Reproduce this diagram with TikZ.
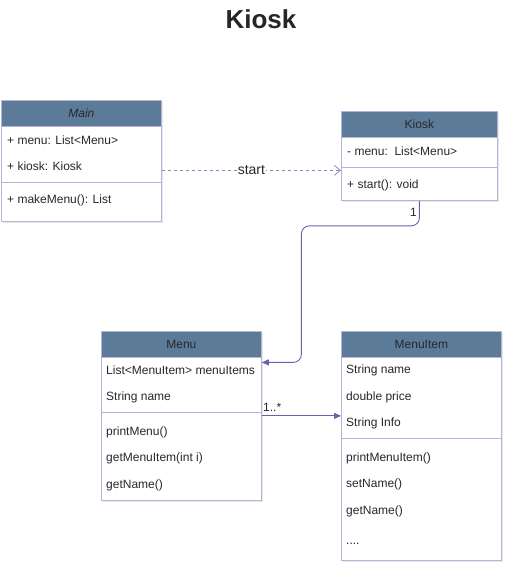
\documentclass[tikz,border=0pt]{standalone}
\usepackage{fontspec}
\setmainfont{Liberation Sans}
\usetikzlibrary{arrows.meta,shadows}
\definecolor{hdrfill}{RGB}{91,123,152}
\definecolor{boxline}{RGB}{184,180,214}
\definecolor{conn}{RGB}{108,96,168}
\definecolor{dashc}{RGB}{140,134,192}
\definecolor{txt}{RGB}{40,40,40}
\tikzset{
  classbox/.style={draw=boxline, fill=white, line width=0.8pt, inner sep=0pt,
    drop shadow={opacity=0.18, shadow xshift=2pt, shadow yshift=-2pt}},
  hdr/.style={draw=boxline, fill=hdrfill, line width=0.8pt, inner sep=0pt, text=txt,
    font=\fontsize{12}{14}\selectfont},
  fld/.style={anchor=west, inner sep=0pt, yshift=-1pt, text=txt, font=\fontsize{12}{14}\selectfont},
  divline/.style={draw=boxline, line width=0.8pt},
  assoc/.style={draw=conn, line width=0.9pt, -{Triangle[length=7pt,width=6pt]}},
  deplink/.style={draw=dashc, line width=0.8pt, dashed, -{Straight Barb[length=6pt,width=10pt]}},
  lbl/.style={inner sep=1pt, text=txt, font=\fontsize{12}{14}\selectfont}
}
\begin{document}
\begin{tikzpicture}[x=1pt,y=-1pt]
\useasboundingbox[fill=white] (0,0) rectangle (513,572);
% title
\node[font=\bfseries\fontsize{26}{30}\selectfont, text=black!85] (title) at (261,19) {Kiosk};

% Main
\node[classbox, minimum width=160pt, minimum height=121pt, anchor=north west] (main) at (1,100) {};
\node[hdr, minimum width=160pt, minimum height=26pt, anchor=north west] (mainh) at (1,100) {\itshape Main};
\node[fld] (m1) at (7,139) {+ menu: List<Menu>};
\node[fld] (m2) at (7,165) {+ kiosk: Kiosk};
\draw[divline] (1,182) -- (161,182);
\node[fld] (m3) at (7,199) {+ makeMenu(): List};

% Kiosk
\node[classbox, minimum width=156pt, minimum height=89pt, anchor=north west] (kiosk) at (341,111) {};
\node[hdr, minimum width=156pt, minimum height=26pt, anchor=north west] (kioskh) at (341,111) {Kiosk};
\node[fld] (k1) at (347,150) {- menu:\ \ List<Menu>};
\draw[divline] (341,167) -- (497,167);
\node[fld] (k2) at (347,184) {+ start(): void};

% Menu
\node[classbox, minimum width=160pt, minimum height=169pt, anchor=north west] (menu) at (101,331) {};
\node[hdr, minimum width=160pt, minimum height=26pt, anchor=north west] (menuh) at (101,331) {Menu};
\node[fld] (n1) at (106,369) {List<MenuItem> menuItems};
\node[fld] (n2) at (106,396) {String name};
\draw[divline] (101,412) -- (261,412);
\node[fld] (n3) at (106,431) {printMenu()};
\node[fld] (n4) at (106,457) {getMenuItem(int i)};
\node[fld] (n5) at (106,484) {getName()};

% MenuItem
\node[classbox, minimum width=160pt, minimum height=229pt, anchor=north west] (item) at (341,331) {};
\node[hdr, minimum width=160pt, minimum height=26pt, anchor=north west] (itemh) at (341,331) {MenuItem};
\node[fld] (i1) at (346,369) {String name};
\node[fld] (i2) at (346,396) {double price};
\node[fld] (i3) at (346,422) {String Info};
\draw[divline] (341,438) -- (501,438);
\node[fld] (i4) at (346,457) {printMenuItem()};
\node[fld] (i5) at (346,483) {setName()};
\node[fld] (i6) at (346,510) {getName()};
\node[fld] (i7) at (346,543) {....};

% connectors
\coordinate (mainout) at ([yshift=-9.5pt]main.east);
\draw[deplink] (mainout) -- (mainout -| kiosk.west)
  node[lbl, midway, fill=white, font=\fontsize{14}{16}\selectfont] (startlbl) {start};

\coordinate (menuin) at ([yshift=53.5pt]menu.east);
\draw[assoc, rounded corners=8pt] (kiosk.south) -- ++(0,25) -- ++(-118,0) |- (menuin);
\node[lbl, anchor=east] (one) at (418,212) {1};

\draw[assoc] (menu.east) -- (menu.east -| item.west);
\node[lbl, anchor=west] (many) at (262,407) {1..*};
\end{tikzpicture}
\end{document}
